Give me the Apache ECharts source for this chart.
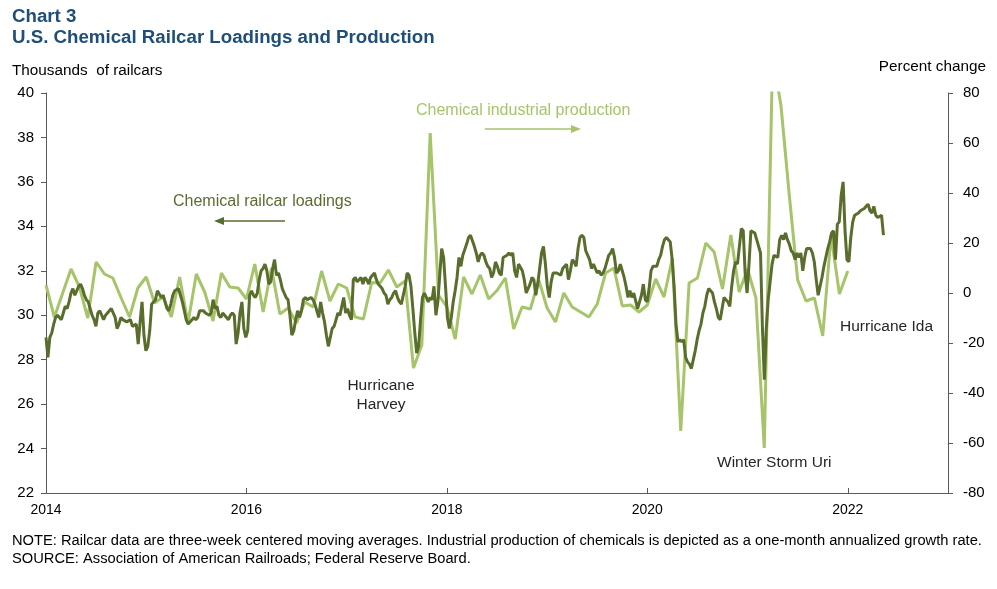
<!DOCTYPE html>
<html><head><meta charset="utf-8">
<script src="https://cdn.jsdelivr.net/npm/echarts@6/dist/echarts.min.js"></script>
<style>html,body{margin:0;padding:0;background:#fff}#c{width:997px;height:589px}</style>
</head><body><div id="c"></div>
<script>
// Chemical railcar loadings, thousands, weekly (3-week centered MA), starting first week of Jan 2014
const railStartYear = 2014;
const railValues = [
29.0,28.1,29.0,29.2,29.6,29.9,30.0,29.9,29.8,30.1,30.4,30.3,30.6,31.0,31.2,30.9,31.1,31.3,31.4,31.2,
30.9,30.7,30.6,30.3,30.0,29.8,29.5,30.1,30.2,30.2,29.8,30.0,30.1,30.2,30.3,30.1,29.9,29.4,29.6,29.9,
29.8,29.8,29.7,29.7,29.8,29.5,29.5,29.6,28.7,29.7,30.6,29.1,28.4,28.6,29.3,30.5,30.5,30.7,31.1,31.1,
30.8,30.9,30.6,30.3,30.2,30.5,30.9,31.1,31.1,31.2,30.9,30.6,30.2,29.8,29.6,29.6,29.8,29.9,29.8,29.9,
30.2,30.2,30.2,30.1,30.1,30.0,30.1,30.7,30.3,30.4,30.0,29.9,30.1,30.0,29.9,29.8,30.0,30.1,30.0,28.7,
29.2,30.1,30.6,29.4,29.0,29.3,30.9,31.1,30.9,30.8,31.0,31.6,32.0,32.1,32.3,32.0,31.4,31.5,32.1,32.5,
31.8,31.9,31.6,31.2,31.0,30.8,30.7,30.0,29.1,29.3,29.8,30.2,29.9,30.2,30.7,30.8,30.7,30.7,30.8,30.7,
30.5,30.2,29.9,30.6,30.1,29.7,29.1,28.6,29.0,29.4,29.5,29.5,30.1,30.0,30.4,30.8,30.1,30.3,30.0,29.8,
31.6,31.7,31.5,31.5,31.7,31.4,31.7,31.6,31.4,31.7,31.8,31.9,31.6,31.4,31.4,31.2,31.0,30.9,30.5,30.7,
30.8,31.0,31.1,30.8,30.6,30.5,30.5,31.3,31.9,31.8,31.3,30.3,29.2,28.3,28.6,29.8,30.8,31.0,30.8,30.6,
30.8,30.7,31.3,30.0,30.6,31.8,33.0,32.6,31.3,29.9,29.4,29.9,30.6,31.1,31.7,32.6,32.2,32.7,32.7,33.2,
33.5,33.6,33.6,33.1,32.8,32.4,32.7,32.8,32.7,32.4,32.2,32.1,31.7,31.9,32.4,32.2,31.9,31.8,32.6,32.6,
32.7,32.8,32.7,32.8,32.0,31.7,32.3,32.3,32.0,31.6,31.0,31.0,31.4,31.7,31.6,30.9,31.4,32.1,32.8,33.1,
32.3,31.3,30.8,31.5,31.9,31.9,31.9,31.9,31.8,32.1,32.1,32.3,31.6,32.0,32.5,32.4,32.2,33.0,33.5,33.6,
33.5,32.9,32.9,32.5,32.1,32.3,32.3,31.9,32.0,31.8,31.9,32.1,32.4,32.7,32.8,33.0,32.6,31.9,32.0,32.3,
32.0,31.7,31.3,30.8,31.1,30.8,31.0,31.0,30.3,30.3,30.9,31.4,30.7,30.6,31.2,32.0,32.2,32.2,32.2,32.5,
32.7,33.1,33.4,33.5,33.4,33.3,32.5,31.3,29.6,28.8,28.9,28.8,28.9,28.1,27.9,27.8,27.6,28.0,28.4,28.9,
29.3,29.6,30.1,30.4,30.9,31.2,31.2,31.0,30.6,30.3,29.9,29.8,30.3,30.8,30.7,30.6,30.4,31.3,32.0,32.4,
32.3,32.3,33.9,33.8,31.9,31.0,32.3,33.8,33.8,33.7,33.4,33.4,32.8,29.4,27.1,29.4,30.7,31.5,32.3,32.7,
32.7,32.6,33.4,33.6,33.4,33.7,33.4,33.2,32.9,32.8,32.5,32.8,32.6,32.8,32.0,32.6,33.0,33.0,33.0,32.8,
32.4,31.6,30.9,30.9,31.7,32.2,32.6,33.0,33.3,33.7,33.8,32.5,34.1,34.2,35.4,36.0,33.8,32.5,32.4,33.5,
34.2,34.5,34.5,34.6,34.7,34.7,34.8,34.9,35.0,34.7,34.6,34.9,34.5,34.4,34.4,34.5,33.6
];
// Chemical industrial production, one-month annualized % change, monthly from Jan 2014
const prodStartYear = 2014;
const prodValues = [
3.2,-9.7,0,9.6,2.4,-10,12.4,7.6,6,-2,-9.6,2,
6.4,-4,-1.6,-9.6,6.4,-12,7.6,0.4,-11.2,8,2.4,2,
-2.4,11.6,-7.6,10,-8.4,-6,-12,-3.6,-5.6,8.8,-3.2,3.6,
2,-9.6,-10.4,4.2,4,9.2,2.4,4.8,-30,-20.8,64,-0.8,
-5.6,-18.4,6.4,-0.4,7.2,-2.4,1,6,-14.4,-5.6,-6.4,5.2,
-6,-11.6,0,-5.6,-7.6,-9.6,-4.4,8,10,-5.2,-4.8,-7.6,
-4.8,5.6,-1.6,14,-55.2,4,6,20,16.4,1.6,23.2,0.4,
9.6,-2,-62,95,75,39,5.2,-3.2,-2,-17.2,23.2,-0.4,
8.8
];
const xTicks = [2014, 2016, 2018, 2020, 2022];
const leftTicks = [22, 24, 26, 28, 30, 32, 34, 36, 38, 40];
const rightTicks = [-80, -60, -40, -20, 0, 20, 40, 60, 80];

const DARK = '#596D2C', LIGHT = '#A6C46A', BLUE = '#1F4E79';
const FONT = '"Liberation Sans", Arial, sans-serif';

const railData = railValues.map((v, k) => [railStartYear + k * 7 / 365.25, v]);
const prodData = prodValues.map((v, i) => [prodStartYear + i / 12, v]);

const chart = echarts.init(document.getElementById('c'), null, {renderer: 'canvas'});
const axisLineStyle = {color: '#595959', width: 1};
const txt = (x, y, s, color, opts) => Object.assign({
  type: 'text', x: x, y: y,
  style: Object.assign({text: s, fill: color, font: '15px ' + FONT, textVerticalAlign: 'middle', textAlign: 'left'}, (opts || {}))
});
chart.setOption({
  animation: false,
  backgroundColor: '#fff',
  grid: {left: 46, right: 49, top: 93, bottom: 96, containLabel: false},
  xAxis: {
    type: 'value', min: 2014, max: 2023, interval: 2,
    axisLine: {show: true, onZero: false, lineStyle: axisLineStyle},
    axisTick: {show: true, inside: true, length: 5, lineStyle: axisLineStyle},
    splitLine: {show: false},
    axisLabel: {color: '#000', fontFamily: FONT, fontSize: 14, margin: 10, showMaxLabel: false,
      formatter: v => (xTicks.indexOf(v) >= 0 ? String(v) : '')}
  },
  yAxis: [{
    type: 'value', min: 22, max: 40, interval: 2, position: 'left',
    axisLine: {show: true, lineStyle: axisLineStyle},
    axisTick: {show: true, length: 5, lineStyle: axisLineStyle},
    splitLine: {show: false},
    axisLabel: {color: '#000', fontFamily: FONT, fontSize: 15, margin: 12,
      formatter: v => (leftTicks.indexOf(v) >= 0 ? String(v) : '')}
  }, {
    type: 'value', min: -80, max: 80, interval: 20, position: 'right',
    axisLine: {show: true, lineStyle: axisLineStyle},
    axisTick: {show: true, length: 5, lineStyle: axisLineStyle},
    splitLine: {show: false},
    axisLabel: {color: '#000', fontFamily: FONT, fontSize: 15, margin: 15,
      formatter: v => (rightTicks.indexOf(v) >= 0 ? String(v) : '')}
  }],
  series: [{
    name: 'Chemical industrial production', type: 'line', yAxisIndex: 1,
    data: prodData, showSymbol: false, symbol: 'none', clip: true,
    lineStyle: {color: LIGHT, width: 3}, z: 2
  }, {
    name: 'Chemical railcar loadings', type: 'line', yAxisIndex: 0,
    data: railData, showSymbol: false, symbol: 'none', clip: true,
    lineStyle: {color: DARK, width: 3}, z: 3
  }],
  graphic: [
    txt(12, 17, 'Chart 3', BLUE, {font: 'bold 18.7px ' + FONT}),
    txt(12, 38, 'U.S. Chemical Railcar Loadings and Production', BLUE, {font: 'bold 18.7px ' + FONT}),
    txt(12, 71, 'Thousands  of railcars', '#000', {font: '15.3px ' + FONT}),
    txt(986, 67, 'Percent change', '#000', {font: '15.3px ' + FONT, textAlign: 'right'}),
    txt(173, 202, 'Chemical railcar loadings', DARK, {font: '16px ' + FONT}),
    {type: 'line', shape: {x1: 285, y1: 221, x2: 222, y2: 221}, style: {stroke: DARK, lineWidth: 1.3}},
    {type: 'polygon', shape: {points: [[214, 221], [224, 217], [224, 225]]}, style: {fill: DARK}},
    txt(416, 111, 'Chemical industrial production', LIGHT, {font: '16px ' + FONT}),
    {type: 'line', shape: {x1: 485, y1: 129, x2: 572, y2: 129}, style: {stroke: LIGHT, lineWidth: 1.3}},
    {type: 'polygon', shape: {points: [[581, 129], [571, 125], [571, 133]]}, style: {fill: LIGHT}},
    txt(381, 386, 'Hurricane', '#262626', {font: '15.5px ' + FONT, textAlign: 'center'}),
    txt(381, 405, 'Harvey', '#262626', {font: '15.5px ' + FONT, textAlign: 'center'}),
    txt(717, 463, 'Winter Storm Uri', '#262626', {font: '15.5px ' + FONT}),
    txt(840, 327, 'Hurricane Ida', '#262626', {font: '15.5px ' + FONT}),
    txt(12, 541, 'NOTE: Railcar data are three-week centered moving averages. Industrial production of chemicals is depicted as a one-month annualized growth rate.', '#000', {font: '14.7px ' + FONT}),
    txt(12, 559, 'SOURCE: Association of American Railroads; Federal Reserve Board.', '#000', {font: '14.7px ' + FONT})
  ]
});
</script></body></html>
